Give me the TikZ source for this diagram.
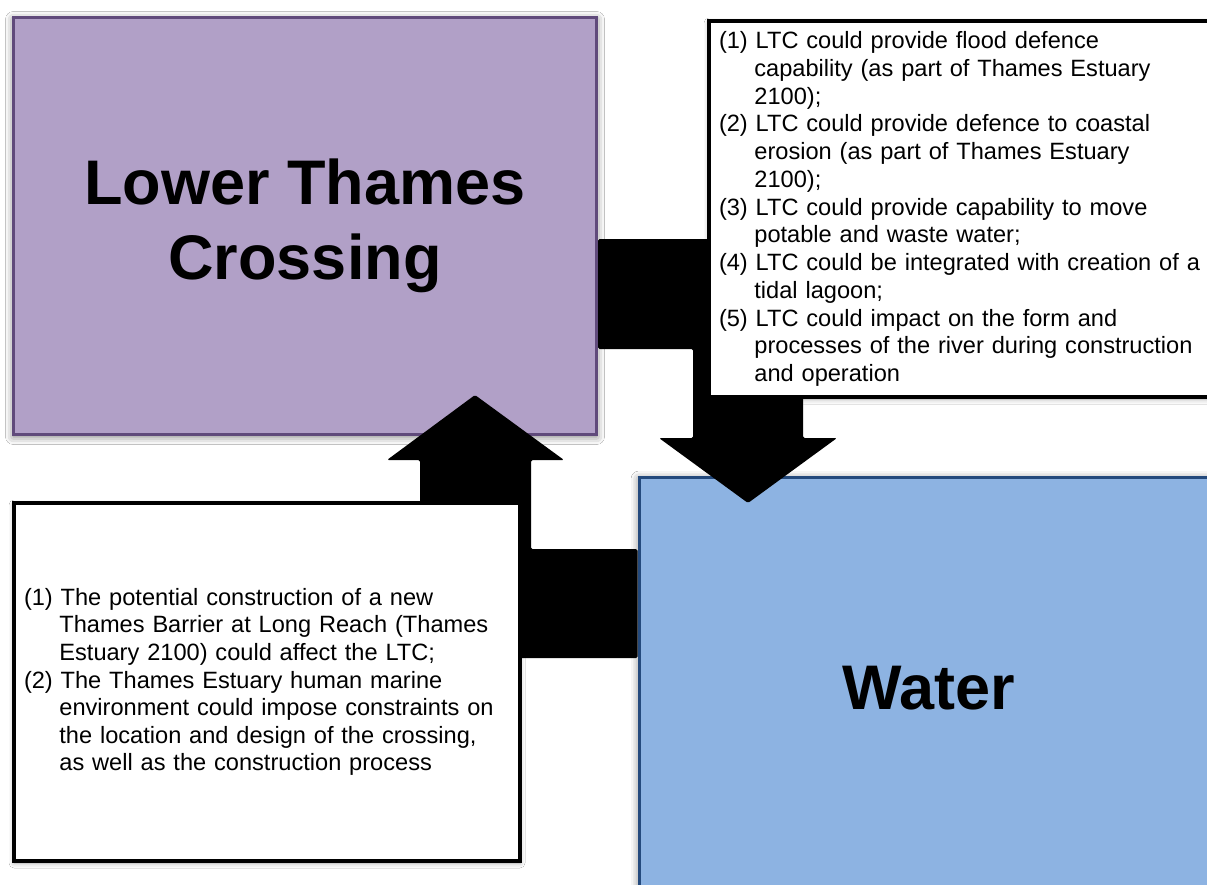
\documentclass[tikz,border=0pt]{standalone}
\usepackage{fontspec}
\setmainfont{Liberation Sans}
\usetikzlibrary{shadows.blur}
\definecolor{ltcfill}{RGB}{177,160,199}
\definecolor{ltcline}{RGB}{96,74,123}
\definecolor{waterfill}{RGB}{141,179,226}
\definecolor{waterline}{RGB}{36,74,125}
\newcommand{\hind}{\hspace*{1.5em}}
\begin{document}
\begin{tikzpicture}[x=1pt,y=-1pt,
  topicbox/.style={draw, line width=3pt, align=center, inner sep=0pt,
    font=\fontsize{63}{75}\selectfont\bfseries,
    blur shadow={shadow xshift=0pt, shadow yshift=-2pt, shadow blur radius=8pt, shadow opacity=55}},
  notebox/.style={draw=black, fill=white, line width=4pt, inner sep=10pt, align=left,
    font=\fontsize{23.6}{27.6}\selectfont,
    blur shadow={shadow xshift=0pt, shadow yshift=-2pt, shadow blur radius=5pt, shadow opacity=35}},
  blockarrow/.style={fill=black, rounded corners=1.5pt}]
\clip (0,0) rectangle (1207,884);
\fill[white] (0,0) rectangle (1207,884);

% topic boxes
\node[topicbox, fill=ltcfill, draw=ltcline, minimum width=583pt, minimum height=417pt]
  (ltc) at (305,226) {Lower Thames\\Crossing};
\node[topicbox, fill=waterfill, draw=waterline, anchor=north west,
  minimum width=580pt, minimum height=422pt] (water) at (637.5,475.5) {Water};

% block arrows
\coordinate (a1tip) at (748,503);
\fill[blockarrow] (ltc.east |- 0,239) -- (803,239) -- (803,438) -- (837,438) -- (a1tip)
  -- (659,438) -- (693,438) -- (693,349) -- (ltc.east |- 0,349) -- cycle;
\coordinate (a2tip) at (475,395);
\fill[blockarrow] (water.west |- 0,549) -- (531,549) -- (531,460) -- (564,460) -- (a2tip)
  -- (387,460) -- (420,460) -- (420,658) -- (water.west |- 0,658) -- cycle;

% note boxes
\node[notebox, anchor=north west, minimum height=376pt, text width=530pt,
  font=\fontsize{23.6}{27.75}\selectfont] (effects) at (707,19) {%
(1) LTC could provide flood defence\\
\hind capability (as part of Thames Estuary\\
\hind 2100);\\
(2) LTC could provide defence to coastal\\
\hind erosion (as part of Thames Estuary\\
\hind 2100);\\
(3) LTC could provide capability to move\\
\hind potable and waste water;\\
(4) LTC could be integrated with creation of a\\
\hind tidal lagoon;\\
(5) LTC could impact on the form and\\
\hind processes of the river during construction\\
\hind and operation};

\node[notebox, minimum height=358pt, minimum width=506pt, text width=486pt] (impacts) at (267,682) {%
(1) The potential construction of a new\\
\hind Thames Barrier at Long Reach (Thames\\
\hind Estuary 2100) could affect the LTC;\\
(2) The Thames Estuary human marine\\
\hind environment could impose constraints on\\
\hind the location and design of the crossing,\\
\hind as well as the construction process};
\end{tikzpicture}
\end{document}
